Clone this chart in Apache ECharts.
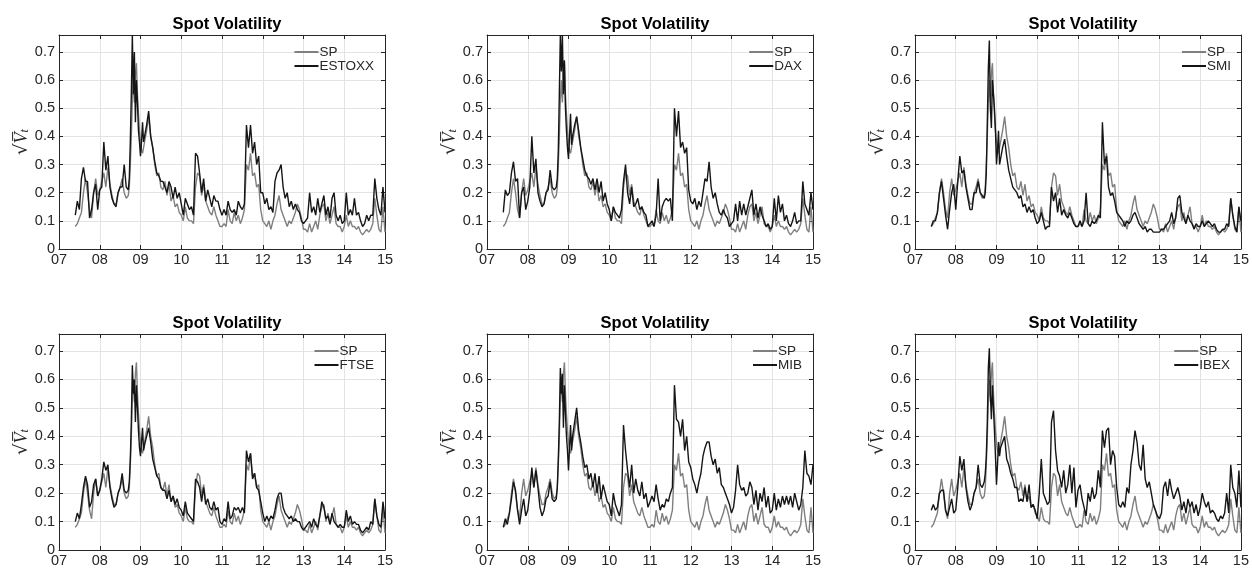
<!DOCTYPE html>
<html><head><meta charset="utf-8">
<script src="https://cdn.jsdelivr.net/npm/echarts@6/dist/echarts.min.js"></script>
<style>html,body{margin:0;padding:0;background:#fff}#c{width:1252px;height:569px}</style>
</head><body><div id="c"></div>
<script>
// time axis (years, 7 = 2007)
const times = [
7.40,7.45,7.50,7.55,7.60,7.65,7.70,7.75,7.80,7.85,7.90,7.95,8.00,8.05,8.10,8.15,8.20,8.25,8.30,8.35,8.40,8.45,8.50,8.55,8.60,8.65,8.70,
8.725,8.75,8.775,8.80,8.825,8.85,8.875,8.90,8.925,8.95,8.975,9.00,9.025,9.05,9.075,9.10,
9.15,9.20,9.25,9.30,9.35,9.40,9.45,9.50,9.55,9.60,9.65,9.70,9.75,9.80,9.85,9.90,9.95,
10.00,10.05,10.10,10.15,10.20,10.25,10.30,10.35,10.40,10.45,10.50,10.55,10.60,10.65,10.70,10.75,10.80,10.85,10.90,10.95,
11.00,11.05,11.10,11.15,11.20,11.25,11.30,11.35,11.40,11.45,11.50,11.55,11.60,11.65,11.70,11.75,11.80,11.85,11.90,11.95,
12.00,12.05,12.10,12.15,12.20,12.25,12.30,12.35,12.40,12.45,12.50,12.55,12.60,12.65,12.70,12.75,12.80,12.85,12.90,12.95,
13.00,13.05,13.10,13.15,13.20,13.25,13.30,13.35,13.40,13.45,13.50,13.55,13.60,13.65,13.70,13.75,13.80,13.85,13.90,13.95,
14.00,14.05,14.10,14.15,14.20,14.25,14.30,14.35,14.40,14.45,14.50,14.55,14.60,14.65,14.70,14.75,14.80,14.85,14.90,14.95,
15.00];

const SP = [
0.08,0.09,0.11,0.13,0.20,0.25,0.20,0.14,0.11,0.20,0.25,0.19,0.21,0.24,0.27,0.22,0.29,0.23,0.19,0.16,0.16,0.20,0.22,0.25,0.20,0.18,0.19,
0.22,0.30,0.40,0.53,0.60,0.52,0.62,0.66,0.55,0.48,0.42,0.38,0.35,0.34,0.36,0.38,
0.42,0.47,0.40,0.36,0.30,0.26,0.27,0.22,0.21,0.24,0.19,0.23,0.17,0.19,0.15,0.16,0.13,
0.12,0.10,0.15,0.11,0.10,0.10,0.09,0.22,0.27,0.26,0.19,0.23,0.17,0.15,0.13,0.12,0.15,0.12,0.10,0.08,
0.08,0.09,0.08,0.14,0.10,0.09,0.13,0.10,0.12,0.09,0.11,0.14,0.30,0.28,0.34,0.26,0.27,0.22,0.23,0.14,
0.10,0.09,0.08,0.10,0.07,0.10,0.12,0.16,0.19,0.14,0.12,0.10,0.08,0.10,0.09,0.11,0.13,0.16,0.14,0.11,
0.07,0.07,0.06,0.09,0.06,0.08,0.10,0.07,0.12,0.15,0.16,0.10,0.13,0.09,0.12,0.15,0.09,0.08,0.08,0.06,
0.08,0.12,0.08,0.10,0.08,0.08,0.07,0.08,0.06,0.05,0.06,0.07,0.06,0.07,0.09,0.18,0.12,0.07,0.06,0.15,
0.06];

const ESTOXX = [
0.12,0.17,0.14,0.25,0.29,0.24,0.24,0.11,0.14,0.20,0.23,0.14,0.21,0.22,0.38,0.28,0.33,0.22,0.18,0.16,0.15,0.20,0.22,0.22,0.30,0.22,0.21,
0.25,0.38,0.55,0.76,0.55,0.70,0.45,0.60,0.52,0.42,0.38,0.33,0.38,0.45,0.38,0.40,
0.44,0.49,0.40,0.36,0.31,0.27,0.26,0.24,0.24,0.22,0.20,0.24,0.22,0.18,0.22,0.18,0.20,
0.16,0.12,0.18,0.16,0.14,0.15,0.12,0.34,0.33,0.27,0.20,0.25,0.17,0.21,0.18,0.15,0.19,0.17,0.17,0.14,
0.12,0.14,0.12,0.17,0.14,0.13,0.14,0.12,0.17,0.15,0.14,0.16,0.44,0.36,0.44,0.34,0.38,0.30,0.33,0.20,
0.20,0.16,0.18,0.14,0.15,0.13,0.24,0.27,0.28,0.30,0.22,0.18,0.20,0.15,0.17,0.14,0.16,0.14,0.13,0.10,
0.09,0.10,0.11,0.20,0.13,0.15,0.12,0.18,0.13,0.16,0.19,0.12,0.15,0.11,0.18,0.20,0.12,0.10,0.12,0.09,
0.10,0.20,0.12,0.14,0.12,0.18,0.12,0.13,0.10,0.08,0.09,0.12,0.10,0.12,0.12,0.25,0.18,0.14,0.12,0.22,
0.13];

const DAX = [
0.13,0.21,0.19,0.20,0.27,0.31,0.24,0.25,0.11,0.20,0.22,0.14,0.17,0.22,0.40,0.27,0.32,0.20,0.17,0.15,0.16,0.20,0.21,0.28,0.22,0.21,0.22,
0.25,0.35,0.55,0.76,0.63,0.76,0.55,0.67,0.50,0.42,0.36,0.32,0.40,0.48,0.37,0.40,
0.44,0.47,0.42,0.36,0.32,0.28,0.26,0.25,0.23,0.25,0.21,0.25,0.20,0.24,0.17,0.20,0.16,
0.14,0.10,0.15,0.13,0.12,0.11,0.14,0.24,0.30,0.20,0.16,0.22,0.15,0.16,0.18,0.14,0.15,0.13,0.12,0.08,
0.09,0.10,0.08,0.12,0.25,0.10,0.15,0.17,0.18,0.17,0.18,0.10,0.50,0.40,0.49,0.36,0.38,0.34,0.36,0.21,
0.17,0.16,0.18,0.14,0.17,0.15,0.20,0.25,0.24,0.31,0.22,0.18,0.20,0.16,0.13,0.12,0.14,0.12,0.11,0.08,
0.09,0.10,0.16,0.10,0.17,0.12,0.16,0.12,0.15,0.18,0.21,0.12,0.16,0.11,0.15,0.12,0.10,0.08,0.09,0.07,
0.08,0.18,0.10,0.19,0.13,0.16,0.10,0.12,0.09,0.08,0.10,0.13,0.09,0.10,0.10,0.24,0.16,0.14,0.12,0.20,
0.14];

const SMI = [
0.08,0.10,0.10,0.13,0.20,0.24,0.18,0.12,0.07,0.14,0.20,0.23,0.14,0.24,0.33,0.27,0.28,0.22,0.18,0.14,0.14,0.20,0.20,0.24,0.20,0.19,0.18,
0.20,0.27,0.45,0.64,0.74,0.50,0.43,0.60,0.55,0.50,0.42,0.30,0.35,0.42,0.30,0.32,
0.36,0.39,0.33,0.28,0.25,0.22,0.21,0.20,0.18,0.19,0.15,0.16,0.13,0.15,0.13,0.14,0.11,
0.09,0.10,0.13,0.10,0.07,0.08,0.08,0.22,0.17,0.20,0.13,0.18,0.12,0.14,0.12,0.11,0.13,0.11,0.09,0.08,
0.08,0.10,0.08,0.10,0.20,0.09,0.08,0.10,0.09,0.10,0.12,0.11,0.45,0.30,0.33,0.22,0.19,0.20,0.17,0.13,
0.12,0.11,0.10,0.08,0.10,0.09,0.10,0.12,0.13,0.11,0.09,0.08,0.07,0.08,0.06,0.07,0.07,0.06,0.06,0.06,
0.06,0.07,0.07,0.08,0.09,0.10,0.13,0.09,0.11,0.18,0.19,0.13,0.11,0.09,0.12,0.10,0.09,0.07,0.09,0.08,
0.08,0.10,0.08,0.09,0.10,0.09,0.08,0.09,0.07,0.06,0.06,0.07,0.07,0.09,0.08,0.18,0.12,0.08,0.06,0.15,
0.10];

const FTSE = [
0.10,0.13,0.11,0.16,0.22,0.26,0.23,0.15,0.17,0.23,0.25,0.19,0.21,0.25,0.31,0.28,0.30,0.22,0.18,0.15,0.16,0.20,0.22,0.27,0.21,0.20,0.21,
0.24,0.32,0.45,0.65,0.55,0.60,0.45,0.58,0.50,0.42,0.36,0.33,0.38,0.43,0.35,0.37,
0.40,0.43,0.38,0.32,0.29,0.26,0.25,0.22,0.21,0.21,0.18,0.21,0.17,0.19,0.16,0.18,0.15,
0.14,0.12,0.17,0.13,0.12,0.11,0.10,0.25,0.24,0.22,0.17,0.22,0.16,0.18,0.15,0.14,0.17,0.14,0.15,0.10,
0.09,0.11,0.10,0.17,0.11,0.12,0.15,0.14,0.15,0.13,0.15,0.13,0.35,0.31,0.34,0.25,0.27,0.22,0.21,0.17,
0.13,0.10,0.12,0.10,0.12,0.11,0.14,0.18,0.20,0.20,0.15,0.13,0.12,0.11,0.12,0.10,0.11,0.10,0.10,0.08,
0.07,0.08,0.09,0.10,0.08,0.11,0.09,0.08,0.12,0.17,0.15,0.11,0.12,0.09,0.13,0.10,0.09,0.08,0.09,0.08,
0.08,0.14,0.10,0.12,0.09,0.10,0.09,0.09,0.07,0.06,0.07,0.08,0.07,0.10,0.09,0.18,0.12,0.09,0.08,0.17,
0.11];

const MIB = [
0.08,0.11,0.09,0.13,0.18,0.24,0.21,0.14,0.09,0.14,0.18,0.12,0.14,0.20,0.29,0.22,0.28,0.22,0.15,0.12,0.14,0.18,0.19,0.24,0.18,0.17,0.18,
0.22,0.32,0.45,0.64,0.55,0.62,0.43,0.58,0.48,0.40,0.35,0.28,0.36,0.44,0.35,0.40,
0.45,0.50,0.42,0.38,0.33,0.29,0.30,0.25,0.27,0.22,0.27,0.20,0.26,0.18,0.23,0.20,0.17,
0.16,0.12,0.20,0.16,0.14,0.12,0.16,0.44,0.35,0.28,0.22,0.30,0.20,0.25,0.21,0.19,0.24,0.18,0.20,0.15,
0.17,0.19,0.17,0.23,0.18,0.14,0.16,0.15,0.18,0.17,0.20,0.22,0.58,0.46,0.45,0.40,0.46,0.35,0.40,0.31,
0.29,0.25,0.23,0.20,0.24,0.27,0.33,0.36,0.38,0.38,0.33,0.30,0.32,0.27,0.29,0.23,0.22,0.20,0.18,0.16,
0.13,0.15,0.21,0.30,0.23,0.21,0.22,0.19,0.20,0.24,0.22,0.16,0.21,0.14,0.20,0.17,0.22,0.15,0.19,0.13,
0.14,0.20,0.14,0.18,0.15,0.19,0.16,0.19,0.16,0.19,0.15,0.20,0.17,0.14,0.16,0.22,0.35,0.27,0.26,0.23,
0.30];

const IBEX = [
0.14,0.16,0.14,0.15,0.20,0.21,0.21,0.14,0.12,0.15,0.18,0.13,0.14,0.22,0.33,0.28,0.32,0.22,0.17,0.14,0.16,0.20,0.22,0.30,0.23,0.22,0.24,
0.27,0.33,0.45,0.64,0.71,0.55,0.46,0.58,0.50,0.42,0.33,0.23,0.30,0.38,0.33,0.36,
0.38,0.40,0.32,0.30,0.27,0.25,0.22,0.22,0.17,0.18,0.17,0.22,0.17,0.23,0.15,0.16,0.14,
0.11,0.20,0.32,0.20,0.18,0.16,0.17,0.45,0.49,0.35,0.28,0.26,0.22,0.28,0.20,0.23,0.30,0.20,0.29,0.15,
0.21,0.23,0.18,0.15,0.12,0.20,0.17,0.22,0.18,0.20,0.28,0.22,0.42,0.36,0.42,0.43,0.30,0.35,0.33,0.22,
0.16,0.15,0.17,0.15,0.22,0.20,0.30,0.35,0.42,0.38,0.30,0.28,0.37,0.25,0.22,0.24,0.20,0.16,0.14,0.12,
0.11,0.13,0.22,0.24,0.19,0.25,0.21,0.18,0.20,0.22,0.19,0.14,0.17,0.13,0.18,0.15,0.17,0.13,0.16,0.12,
0.15,0.20,0.17,0.15,0.17,0.13,0.14,0.13,0.11,0.10,0.12,0.11,0.13,0.20,0.13,0.30,0.22,0.20,0.15,0.28,
0.15];

const xTickLabels = ['07','08','09','10','11','12','13','14','15'];
const yTickLabels = ['0','0.1','0.2','0.3','0.4','0.5','0.6','0.7'];
const titleText = 'Spot Volatility';

const panels = [
  {name:'ESTOXX', data:ESTOXX, left:59,  top:35,  width:326, height:214, legRight:878, legTop:45},
  {name:'DAX',    data:DAX,    left:487, top:35,  width:326, height:214, legRight:450, legTop:45},
  {name:'SMI',    data:SMI,    left:915, top:35,  width:326, height:214, legRight:21,  legTop:45},
  {name:'FTSE',   data:FTSE,   left:59,  top:334, width:326, height:216, legRight:878, legTop:344},
  {name:'MIB',    data:MIB,    left:487, top:334, width:326, height:216, legRight:450, legTop:344},
  {name:'IBEX',   data:IBEX,   left:915, top:334, width:326, height:216, legRight:22,  legTop:344}
];

const FONT = '"Liberation Sans", Arial, Helvetica, sans-serif';
const AX = '#262626';
const GRIDC = '#e3e3e3';

const pairs = arr => times.map((t, i) => [t, arr[i]]);

const option = {
  animation: false,
  backgroundColor: '#fff',
  title: [], grid: [], xAxis: [], yAxis: [], legend: [], series: []
};

panels.forEach((p, k) => {
  option.grid.push({left:p.left, top:p.top, width:p.width, height:p.height, containLabel:false});
  option.title.push({
    text: titleText, left: p.left + p.width/2, top: p.top - 24, textAlign: 'center',
    textStyle: {fontFamily: FONT, fontSize: 16.5, fontWeight: 'bold', color: '#000'}
  });
  const xBase = {
    type: 'value', gridIndex: k, min: 7, max: 15, interval: 1,
    axisLine: {show: true, onZero: false, lineStyle: {color: AX, width: 1}},
    axisTick: {show: true, inside: true, length: 4, lineStyle: {color: AX}}
  };
  option.xAxis.push(Object.assign({}, xBase, {
    position: 'bottom',
    splitLine: {show: true, lineStyle: {color: GRIDC, width: 1}},
    axisLabel: {show: true, margin: 3, fontFamily: FONT, fontSize: 14.5, color: AX,
      formatter: v => xTickLabels[Math.round(v - 7)] || ''}
  }));
  option.xAxis.push(Object.assign({}, xBase, {
    position: 'top', splitLine: {show: false}, axisLabel: {show: false}
  }));
  const yBase = {
    type: 'value', gridIndex: k, min: 0, max: 0.76, interval: 0.1,
    axisLine: {show: true, onZero: false, lineStyle: {color: AX, width: 1}},
    axisTick: {show: true, inside: true, length: 4, lineStyle: {color: AX}}
  };
  option.yAxis.push(Object.assign({}, yBase, {
    position: 'left',
    name: '{r|√}{v|V̅}{s|t}',
    nameLocation: 'middle', nameGap: 26, nameRotate: 90,
    nameTextStyle: {
      color: AX,
      rich: {
        r: {fontFamily: '"DejaVu Serif", "Liberation Serif", serif', fontSize: 18, color: AX},
        v: {fontFamily: '"Liberation Serif", "DejaVu Serif", serif', fontSize: 18, fontStyle: 'italic', color: AX},
        s: {fontFamily: '"Liberation Serif", "DejaVu Serif", serif', fontSize: 12, fontStyle: 'italic', color: AX, verticalAlign: 'bottom', lineHeight: 14}
      }
    },
    splitLine: {show: true, lineStyle: {color: GRIDC, width: 1}},
    axisLabel: {show: true, margin: 4, fontFamily: FONT, fontSize: 14.5, color: AX,
      formatter: v => {
        const i = Math.round(v * 10);
        return (Math.abs(v - i / 10) < 1e-9 && i >= 0 && i < yTickLabels.length) ? yTickLabels[i] : '';
      }}
  }));
  option.yAxis.push(Object.assign({}, yBase, {
    position: 'right', splitLine: {show: false}, axisLabel: {show: false}
  }));
  option.legend.push({
    data: ['SP', p.name], orient: 'vertical', right: p.legRight, top: p.legTop,
    itemWidth: 24, itemHeight: 14, itemGap: 0, padding: 0, selectedMode: false,
    itemStyle: {opacity: 0},
    textStyle: {fontFamily: FONT, fontSize: 13.5, color: AX, padding: [0, 0, 0, -4]}
  });
  option.series.push({
    name: 'SP', type: 'line', xAxisIndex: 2*k, yAxisIndex: 2*k, data: pairs(SP),
    symbol: 'none', lineStyle: {color: '#7f7f7f', width: 1.4}, itemStyle: {color: '#7f7f7f'}, z: 2
  });
  option.series.push({
    name: p.name, type: 'line', xAxisIndex: 2*k, yAxisIndex: 2*k, data: pairs(p.data),
    symbol: 'none', lineStyle: {color: '#151515', width: 1.4}, itemStyle: {color: '#151515'}, z: 3
  });
});

const chart = echarts.init(document.getElementById('c'), null, {renderer: 'canvas'});
chart.setOption(option);
</script>
</body></html>
